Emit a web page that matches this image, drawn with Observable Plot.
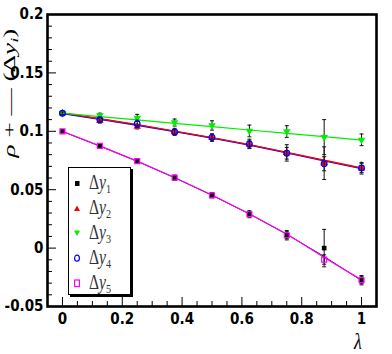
<!DOCTYPE html>
<html>
<head>
<meta charset="utf-8">
<script src="https://cdn.jsdelivr.net/npm/d3@7"></script>
<script src="https://cdn.jsdelivr.net/npm/@observablehq/plot@0.6"></script>
<style>
  body { margin: 0; background: #fff; }
  #wrap { position: relative; width: 392px; height: 354px; overflow: hidden; }
  #titles { position: absolute; left: 0; top: 0; pointer-events: none; }
  #titles text { font-family: "Liberation Serif", "DejaVu Serif", serif; fill: #000; }
  #legend { position: absolute; left: 68px; top: 167px; width: 61px; height: 126px; border: 1px solid #000; background: #fff; box-shadow: 2px 2px 0 #000; }
  .row { position: absolute; left: 0; height: 25px; width: 61px; }
  .row svg { position: absolute; left: 3px; top: 8px; }
  .row span { position: absolute; left: 20px; top: 0px; font-family: "Liberation Serif", "DejaVu Serif", serif; font-size: 20px; line-height: 24px; color: #333; display: inline-block; transform: scaleX(0.78); transform-origin: left center; white-space: nowrap; }
  sub { font-size: 65%; vertical-align: -0.3em; line-height: 0; }
</style>
</head>
<body>
<div id="wrap">
  <div id="chart"></div>
  <div id="legend"></div>
  <svg id="titles" width="392" height="354"></svg>
</div>
<script>
// ---- data ----
const lambda = [0, 0.125, 0.25, 0.375, 0.5, 0.625, 0.75, 0.875, 1];

const dy1 = [0.100, 0.0875, 0.0745, 0.0603, 0.0452, 0.0290, 0.0110, 0.0000, -0.0275];
const dy2 = [0.1155, 0.1090, 0.1040, 0.0993, 0.0944, 0.0888, 0.0815, 0.0727, 0.0684];
const dy3 = [0.1155, 0.1135, 0.1115, 0.1075, 0.1050, 0.1003, 0.0998, 0.0950, 0.0927];
const dy4 = [0.1155, 0.1100, 0.1065, 0.0995, 0.0948, 0.0892, 0.0812, 0.0722, 0.0686];
const dy5 = [0.100, 0.0875, 0.0745, 0.0603, 0.0452, 0.0290, 0.0110, -0.0098, -0.0275];

const err1 = [0.001, 0.002, 0.002, 0.002, 0.002, 0.003, 0.004, 0.016, 0.004];
const err2 = [0.001, 0.002, 0.002, 0.002, 0.003, 0.003, 0.007, 0.014, 0.005];
const err3 = [0.001, 0.002, 0.003, 0.003, 0.004, 0.005, 0.005, 0.015, 0.005];
const err4 = [0.001, 0.002, 0.003, 0.003, 0.003, 0.004, 0.005, 0.006, 0.004];
const err5 = [0.001, 0.002, 0.002, 0.002, 0.002, 0.002, 0.003, 0.004, 0.003];

// fitted curves drawn through the points
const fit1 = [0.0998, 0.0873, 0.0743, 0.0602, 0.0452, 0.0292, 0.0118, -0.0072, -0.0278];
const fit2 = [0.1158, 0.1108, 0.1057, 0.1002, 0.0946, 0.0886, 0.0820, 0.0752, 0.0686];
const fit3 = [0.1155, 0.1126, 0.1097, 0.1068, 0.1040, 0.1011, 0.0982, 0.0954, 0.0925];
const fit4 = [0.1153, 0.1104, 0.1053, 0.0998, 0.0942, 0.0882, 0.0816, 0.0748, 0.0682];
const fit5 = [0.1000, 0.0875, 0.0745, 0.0604, 0.0454, 0.0294, 0.0120, -0.0080, -0.0272];

const seriesNames = ["Δy1", "Δy2", "Δy3", "Δy4", "Δy5"];
const seriesColors = ["#000000", "#ff0000", "#00ee00", "#0000ff", "#ff00ff"];

const yTickValues = [-0.05, 0, 0.05, 0.1, 0.15, 0.2];
const yTickLabels = ["-0.05", "0", "0.05", "0.1", "0.15", "0.2"];
const xTickValues = [0, 0.2, 0.4, 0.6, 0.8, 1];
const xTickLabels = ["0", "0.2", "0.4", "0.6", "0.8", "1"];

// y title pieces: [text, italic, subscript]
const yTitleParts = [["ρ", true, false], [" + ", false, false], ["— ", false, false], ["(Δ", false, false], ["y", true, false], ["i", true, true], [")", false, false]];
const xTitle = "λ";

// ---- build tables ----
const values = [dy1, dy2, dy3, dy4, dy5];
const errs = [err1, err2, err3, err4, err5];
const fits = [fit1, fit2, fit3, fit4, fit5];
const pts = [], lines = [];
values.forEach((vals, s) => {
  vals.forEach((v, i) => pts.push({s, x: lambda[i], y: v, e: errs[s][i]}));
  fits[s].forEach((v, i) => lines.push({s, x: lambda[i], y: v}));
});
const ser = s => pts.filter(d => d.s === s);
const lin = s => lines.filter(d => d.s === s);

const W = 392, H = 354, mL = 47, mR = 16, mT = 14, mB = 48;
const frameW = W - mL - mR, frameH = H - mT - mB;

const yMinor = d3.range(-50, 201, 10).map(v => v / 1000).filter(v => !yTickValues.some(t => Math.abs(t - v) < 1e-9));
const xMinor = d3.range(-5, 106, 5).map(v => v / 100).filter(v => !xTickValues.some(t => Math.abs(t - v) < 1e-9));

const capSym = { draw(ctx, size) { const r = Math.sqrt(size / Math.PI); ctx.moveTo(-r, 0); ctx.lineTo(r, 0); } };
const fmtY = d => yTickLabels[yTickValues.findIndex(t => Math.abs(t - d) < 1e-9)] ?? "";
const fmtX = d => xTickLabels[xTickValues.findIndex(t => Math.abs(t - d) < 1e-9)] ?? "";

const errMarks = s => [
  Plot.ruleX(ser(s), {x: "x", y1: d => d.y - d.e, y2: d => d.y + d.e, stroke: "#111", strokeWidth: 1}),
  Plot.dot(ser(s), {x: "x", y: d => d.y - d.e, symbol: capSym, r: 2, stroke: "#111", fill: "none", strokeWidth: 1}),
  Plot.dot(ser(s), {x: "x", y: d => d.y + d.e, symbol: capSym, r: 2, stroke: "#111", fill: "none", strokeWidth: 1})
];

const chart = Plot.plot({
  width: W, height: H,
  marginLeft: mL, marginRight: mR, marginTop: mT, marginBottom: mB,
  style: {fontFamily: '"Liberation Sans Narrow", "DejaVu Sans Condensed", "Liberation Sans", sans-serif', fontSize: "15px", fontWeight: "bold", color: "#000", background: "#fff", overflow: "visible"},
  x: {domain: [-0.05, 1.05], ticks: xTickValues, tickFormat: fmtX, tickSize: 0, tickPadding: 7, label: null},
  y: {domain: [-0.05, 0.2], ticks: yTickValues, tickFormat: fmtY, tickSize: 0, tickPadding: 4, label: null},
  marks: [
    Plot.line(lin(3), {x: "x", y: "y", stroke: seriesColors[3], strokeWidth: 1.6}),
    Plot.line(lin(1), {x: "x", y: "y", stroke: seriesColors[1], strokeWidth: 1.4}),
    Plot.line(lin(2), {x: "x", y: "y", stroke: seriesColors[2], strokeWidth: 1.2}),
    Plot.line(lin(0), {x: "x", y: "y", stroke: "#222", strokeWidth: 1.0}),
    Plot.line(lin(4), {x: "x", y: "y", stroke: seriesColors[4], strokeWidth: 1.2}),
    ...errMarks(0),
    Plot.dot(ser(0), {x: "x", y: "y", symbol: "square", r: 2.6, fill: seriesColors[0], stroke: "none"}),
    ...errMarks(1),
    Plot.dot(ser(1), {x: "x", y: "y", symbol: "triangle", r: 2.8, fill: seriesColors[1], stroke: "none"}),
    ...errMarks(2),
    Plot.dot(ser(2), {x: "x", y: "y", symbol: "triangle", rotate: 180, r: 2.8, fill: seriesColors[2], stroke: "none"}),
    ...errMarks(3),
    Plot.dot(ser(3), {x: "x", y: "y", symbol: "circle", r: 2.8, fill: "none", stroke: seriesColors[3], strokeWidth: 1.3}),
    ...errMarks(4),
    Plot.dot(ser(4), {x: "x", y: "y", symbol: "square", r: 2.8, fill: "none", stroke: seriesColors[4], strokeWidth: 1.2}),
    Plot.tickY(yTickValues, {y: d => d, insetRight: frameW - 9, stroke: "#000", strokeWidth: 1}),
    Plot.tickY(yMinor, {y: d => d, insetRight: frameW - 5, stroke: "#000", strokeWidth: 1}),
    Plot.tickX(xTickValues, {x: d => d, insetTop: frameH - 9, stroke: "#000", strokeWidth: 1}),
    Plot.tickX(xMinor, {x: d => d, insetTop: frameH - 5, stroke: "#000", strokeWidth: 1}),
    Plot.frame({stroke: "#000", strokeWidth: 2.6})
  ]
});
document.getElementById("chart").appendChild(chart);

// ---- legend ----
const legendShapes = [
  '<rect x="3" y="3" width="4.5" height="5" fill="#000"/>',
  '<path d="M5 2.5 L8 8 L2 8 Z" fill="#ff0000"/>',
  '<path d="M5 8 L8 2.5 L2 2.5 Z" fill="#00ee00"/>',
  '<ellipse cx="5" cy="5.2" rx="2.4" ry="3" fill="none" stroke="#0000ff" stroke-width="1.2"/>',
  '<rect x="2.6" y="2" width="4.8" height="6.5" fill="none" stroke="#ff00ff" stroke-width="1.2"/>'
];
const legend = document.getElementById("legend");
seriesNames.forEach((name, i) => {
  const row = document.createElement("div");
  row.className = "row";
  row.style.top = (2 + i * 25) + "px";
  const sub = name.slice(2);
  row.innerHTML = `<svg width="10" height="10">${legendShapes[i]}</svg><span>Δ<i>y</i><sub>${sub}</sub></span>`;
  legend.appendChild(row);
});

// ---- axis titles (SVG text) ----
const titles = d3.select("#titles");
const yt = titles.append("text")
  .attr("transform", "translate(15,93) rotate(-90) scale(1.7,1)")
  .attr("text-anchor", "middle")
  .attr("font-size", 16)
  .attr("xml:space", "preserve")
  .style("white-space", "pre");
yTitleParts.forEach(([t, it, sb]) => {
  const ts = yt.append("tspan").text(t).attr("font-style", it ? "italic" : "normal");
  if (sb) ts.attr("font-size", 11).attr("baseline-shift", "-25%");
});
titles.append("text")
  .attr("transform", "translate(358,349) scale(0.75,1)")
  .attr("text-anchor", "middle")
  .attr("font-size", 24)
  .attr("font-style", "italic")
  .text(xTitle);
</script>
</body>
</html>
